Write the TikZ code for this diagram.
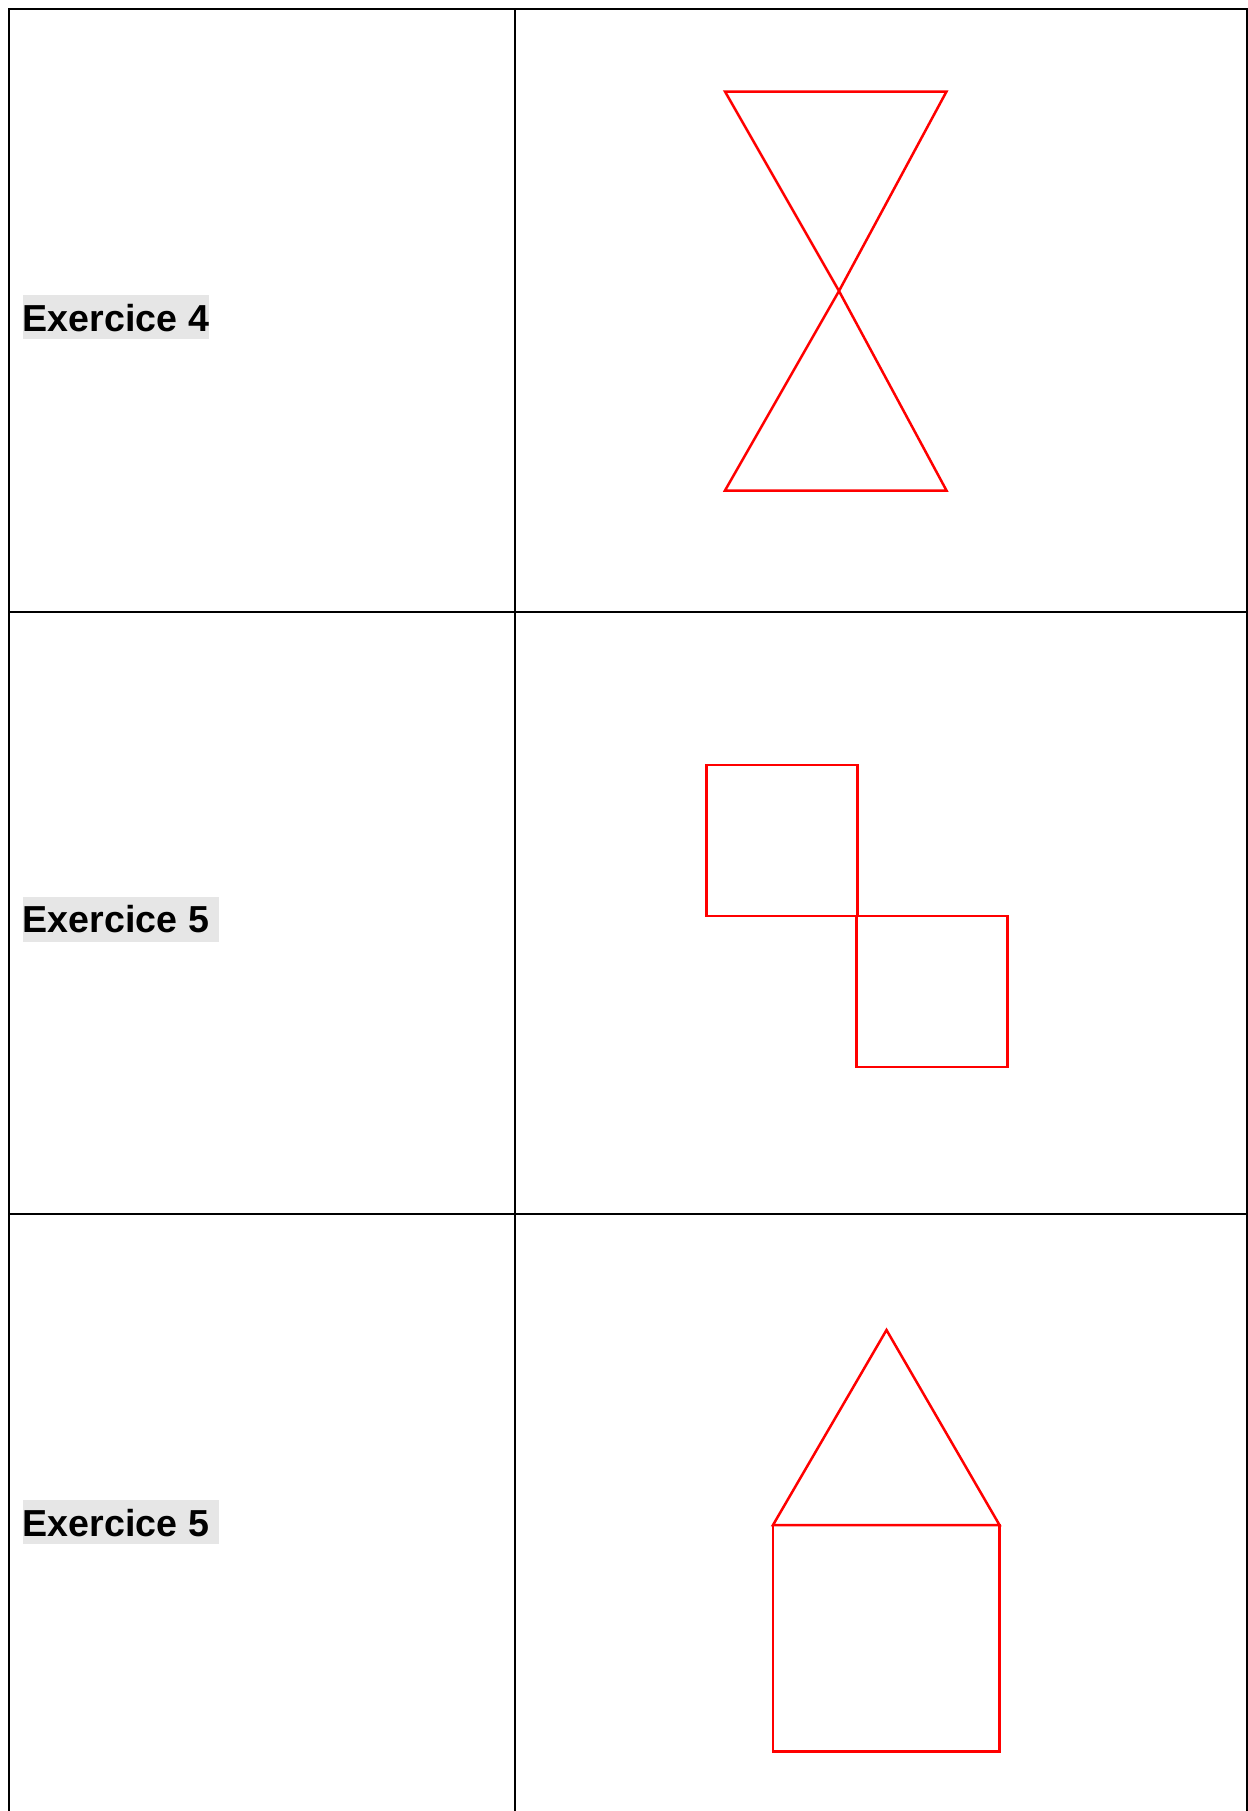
\documentclass[tikz,border=0pt]{standalone}
\usepackage{fontspec}
\setmainfont{Liberation Sans}
\definecolor{hl}{HTML}{E6E6E6}
\begin{document}
\begin{tikzpicture}[x=0.5pt,y=-0.5pt,
  grid/.style={black,line width=1pt,line cap=rect},
  fig/.style={red,line width=1.25pt,line join=miter},
  lbl/.style={anchor=base west,inner sep=0pt,font=\fontsize{18.8}{22}\selectfont\bfseries}]
\useasboundingbox (0,0) rectangle (1248,1811);
% table
\draw[grid] (9,1812) -- (9,9) -- (1247,9) -- (1247,1812);
\draw[grid] (515,9) -- (515,1812);
\draw[grid] (9,612) -- (1247,612);
\draw[grid] (9,1213.5) -- (1247,1213.5);
% labels
\fill[hl] (23,295) rectangle (209,339);
\node[lbl] (t4) at (22.5,331.5) {Exercice 4};
\fill[hl] (23,897) rectangle (219,942);
\node[lbl] (t5a) at (22.5,932.5) {Exercice 5};
\fill[hl] (23,1500) rectangle (219,1544);
\node[lbl] (t5b) at (22.5,1536) {Exercice 5};
% hourglass
\draw[fig] (725,91.5) -- (946.5,91.5) -- (839,291) -- (946.5,490.5) -- (725,490.5) -- (839,291) -- cycle;
% two squares
\draw[fig] (706.5,765) rectangle (857.5,916);
\draw[fig] (856.5,916) rectangle (1007.5,1067);
% house
\draw[fig] (773,1525) -- (886.5,1330) -- (999.5,1525) -- cycle;
\draw[fig] (773,1525) rectangle (999.5,1751.5);
\end{tikzpicture}
\end{document}
